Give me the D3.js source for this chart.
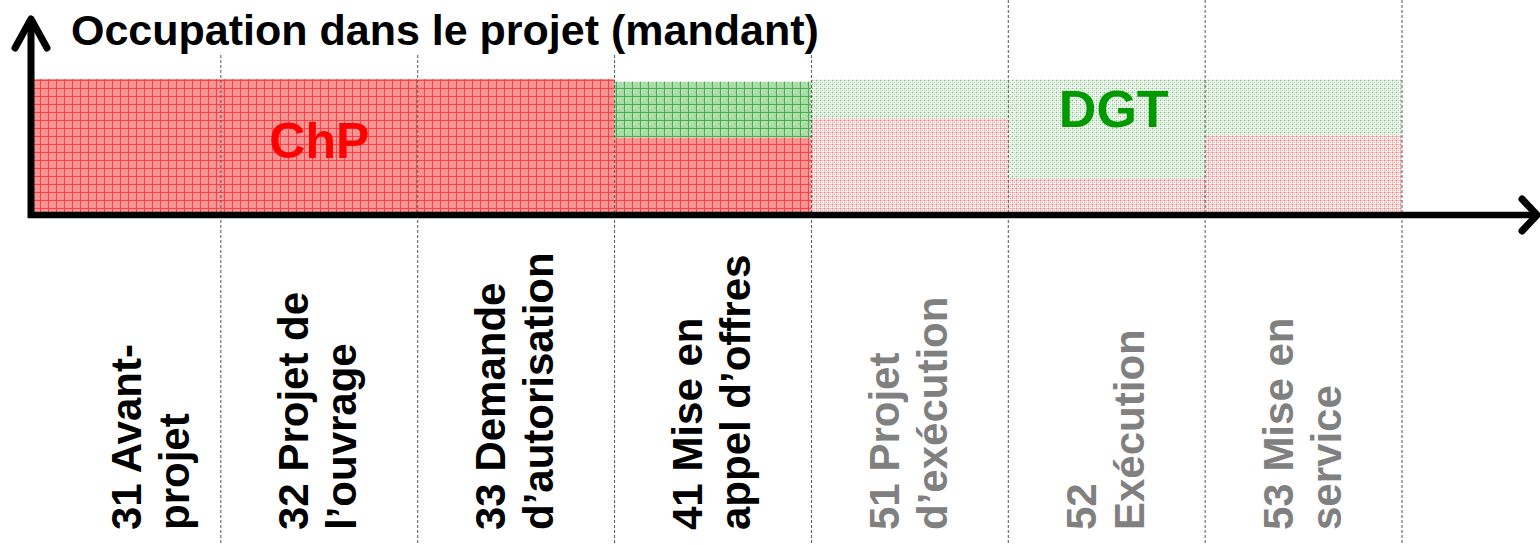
<!DOCTYPE html>
<html>
<head>
<meta charset="utf-8">
<script src="https://cdn.jsdelivr.net/npm/d3@7"></script>
<style>
  body { margin: 0; background: #fff; }
  svg text { font-family: "Liberation Sans", Arial, sans-serif; font-weight: bold; }
</style>
</head>
<body>
<svg id="chart" width="1540" height="545"></svg>
<script>
/*** DATA ***/
let phases = ["31", "32", "33", "41", "51", "52", "53"];
let label_line1 = ["31 Avant-", "32 Projet de", "33 Demande", "41 Mise en", "51 Projet", "52", "53 Mise en"];
let label_line2 = ["projet", "l\u2019ouvrage", "d\u2019autorisation", "appel d\u2019offres", "d\u2019exécution", "Exécution", "service"];
let phase_state = ["current", "current", "current", "current", "future", "future", "future"];
let chp_share = [100, 100, 100, 56, 71, 26, 58];
let dgt_share = [0, 0, 0, 42, 29, 74, 42];

/*** INIT ***/
let svg = d3.select("#chart");
let W = 1540, H = 545;
let axis_x = 31, axis_y = 215;

let x = d3.scaleBand().domain(phases).range([24, 1402]).padding(0),
    y = d3.scaleLinear().domain([0, 100]).range([212, 79]);

// fill patterns
let defs = svg.append("defs");

function dense_pattern(id, base, light, line) {
    let p = defs.append("pattern").attr("id", id).attr("patternUnits", "userSpaceOnUse")
        .attr("width", 8).attr("height", 8);
    p.append("rect").attr("width", 8).attr("height", 8).attr("fill", base);
    [[2, 2], [4, 4], [6, 2], [2, 6], [6, 6], [4, 1], [1, 4]].forEach((c) => {
        p.append("rect").attr("x", c[0]).attr("y", c[1]).attr("width", 1).attr("height", 1).attr("fill", light);
    });
    p.append("rect").attr("x", 0).attr("y", 0).attr("width", 8).attr("height", 1).attr("fill", line);
    p.append("rect").attr("x", 0).attr("y", 0).attr("width", 1).attr("height", 8).attr("fill", line);
}

function light_pattern(id, dot, soft) {
    let p = defs.append("pattern").attr("id", id).attr("patternUnits", "userSpaceOnUse")
        .attr("width", 4).attr("height", 4);
    p.append("rect").attr("width", 4).attr("height", 4).attr("fill", "#fff");
    p.append("rect").attr("x", 0).attr("y", 0).attr("width", 4).attr("height", 1).attr("fill", soft);
    p.append("rect").attr("x", 0).attr("y", 0).attr("width", 1).attr("height", 4).attr("fill", soft);
    p.append("rect").attr("x", 0).attr("y", 0).attr("width", 1).attr("height", 1).attr("fill", dot);
    p.append("rect").attr("x", 2).attr("y", 2).attr("width", 1).attr("height", 1).attr("fill", dot);
}

dense_pattern("red-current", "#ff8c8c", "#ffcccc", "#ff4040");
dense_pattern("green-current", "#a3daa3", "#e6f5e6", "#45b045");
light_pattern("red-future", "#ff8080", "#ffb4b4");
light_pattern("green-future", "#7cc97c", "#cdeccd");

/*** BARS ***/
let rows = phases.map((p, i) => ({phase: p, i: i, chp: chp_share[i], dgt: dgt_share[i], state: phase_state[i]}));

function bar_x(d) { return Math.max(x(d.phase), axis_x); }
function bar_w(d) { return x(d.phase) + x.bandwidth() - bar_x(d); }

svg.selectAll("rect.chp")
    .data(rows).enter()
    .append("rect")
    .classed("chp", true)
    .attr("x", bar_x)
    .attr("width", bar_w)
    .attr("y", (d) => y(d.chp))
    .attr("height", (d) => y(0) - y(d.chp))
    .attr("fill", (d) => "url(#red-" + d.state + ")");

svg.selectAll("rect.dgt")
    .data(rows.filter((d) => d.dgt > 0)).enter()
    .append("rect")
    .classed("dgt", true)
    .attr("x", bar_x)
    .attr("width", bar_w)
    .attr("y", (d) => y(d.chp + d.dgt))
    .attr("height", (d) => y(d.chp) - y(d.chp + d.dgt))
    .attr("fill", (d) => "url(#green-" + d.state + ")");

// phase separators
svg.selectAll("line.sep")
    .data(phases.slice(1).concat(["end"])).enter()
    .append("line")
    .classed("sep", true)
    .attr("x1", (d) => d === "end" ? x.range()[1] : x(d))
    .attr("x2", (d) => d === "end" ? x.range()[1] : x(d))
    .attr("y1", 0).attr("y2", H)
    .attr("stroke", "#555").attr("stroke-width", 1).attr("stroke-dasharray", "3,2");

// title with white box
svg.append("rect").attr("x", 62).attr("y", 0).attr("width", 755).attr("height", 55).attr("fill", "#fff");
svg.append("text")
    .attr("x", 71).attr("y", 45)
    .attr("font-size", 43).attr("fill", "#000")
    .text("Occupation dans le projet (mandant)");

// axes with open arrow heads
svg.append("line").attr("x1", axis_x).attr("x2", axis_x).attr("y1", axis_y + 3).attr("y2", 22)
    .attr("stroke", "#000").attr("stroke-width", 7);
svg.append("path").attr("d", `M${axis_x - 16},48 L${axis_x},19 L${axis_x + 16},48`)
    .attr("fill", "none").attr("stroke", "#000").attr("stroke-width", 7)
    .attr("stroke-linecap", "round").attr("stroke-linejoin", "round");
svg.append("line").attr("x1", axis_x - 3).attr("x2", 1536).attr("y1", axis_y).attr("y2", axis_y)
    .attr("stroke", "#000").attr("stroke-width", 6.5);
svg.append("path").attr("d", `M1522,${axis_y - 16} L1537,${axis_y} L1522,${axis_y + 16}`)
    .attr("fill", "none").attr("stroke", "#000").attr("stroke-width", 7)
    .attr("stroke-linecap", "round").attr("stroke-linejoin", "round");

// series labels
svg.append("text")
    .attr("x", x("32") + x.bandwidth() / 2).attr("y", 158)
    .attr("text-anchor", "middle").attr("font-size", 50).attr("fill", "#ff0000")
    .text("ChP");
svg.append("text")
    .attr("x", x("52") + x.bandwidth() / 2 + 7).attr("y", 127)
    .attr("text-anchor", "middle").attr("font-size", 52).attr("fill", "#009900")
    .text("DGT");

// phase labels, rotated
let labels = svg.selectAll("text.phase")
    .data(rows).enter()
    .append("text")
    .classed("phase", true)
    .attr("font-size", 42)
    .attr("fill", (d) => d.state === "current" ? "#000" : "#808080")
    .attr("transform", (d) => "translate(" + (x(d.phase) + x.bandwidth() / 2 + (d.i === 0 ? 30 : 0)) + ",530) rotate(-90)");

labels.append("tspan").attr("x", 0).attr("y", -11).text((d) => label_line1[d.i]);
labels.append("tspan").attr("x", 0).attr("y", 37).text((d) => label_line2[d.i]);
</script>
</body>
</html>
